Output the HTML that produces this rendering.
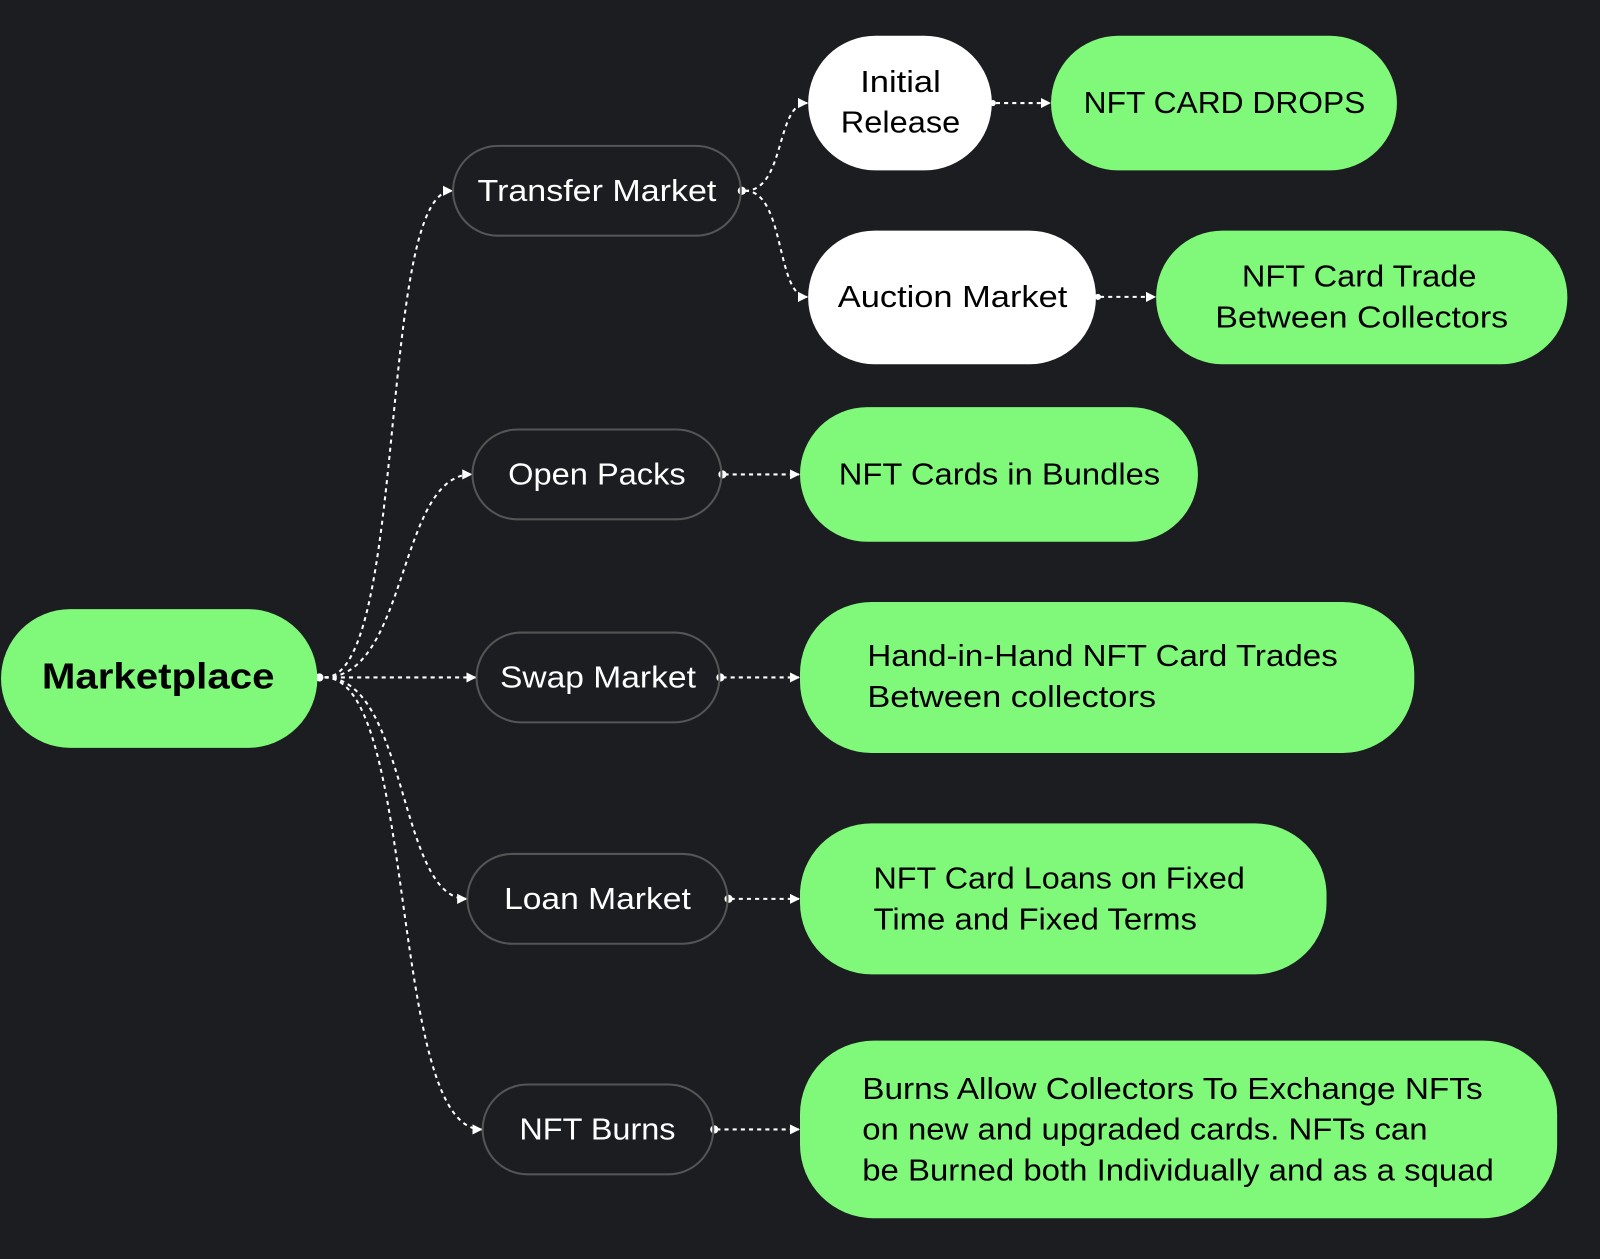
<!DOCTYPE html>
<html><head><meta charset="utf-8"><style>
html,body{margin:0;padding:0;background:#1b1d21;}
svg{display:block}
text{font-family:"Liberation Sans",sans-serif;}
</style></head><body>
<svg width="1600" height="1259" viewBox="0 0 1568 1234" preserveAspectRatio="none" xmlns="http://www.w3.org/2000/svg">
<defs>
<marker id="a" viewBox="0 0 10 10" refX="9" refY="5" markerWidth="10" markerHeight="10" markerUnits="userSpaceOnUse" orient="auto"><path d="M0,0 L10,5 L0,10 z" fill="#fff"/></marker>
</defs>
<rect width="1568" height="1234" fill="#1b1d21"/>
<g fill="none" stroke="#fff" stroke-width="2" stroke-dasharray="4 4" marker-end="url(#a)">
<path d="M318 664 C 400 664, 370 187, 443 187"/>
<path d="M318 664 C 400 664, 390 465, 462 465"/>
<path d="M318 664 L 466 664"/>
<path d="M318 664 C 400 664, 390 881, 457 881"/>
<path d="M318 664 C 410 664, 380 1107, 472 1107"/>
<path d="M730 187 C 770 187, 760 101, 791 101"/>
<path d="M730 187 C 770 187, 760 291, 791 291"/>
<path d="M976 101 L 1029 101"/>
<path d="M1078 291 L 1132 291"/>
<path d="M710 465 L 783 465"/>
<path d="M708 664 L 783 664"/>
<path d="M716 881 L 783 881"/>
<path d="M702 1107 L 783 1107"/>
</g>
<g fill="#fff">
<circle cx="313" cy="664" r="4"/><circle cx="727" cy="187" r="4"/><circle cx="973" cy="101" r="3"/><circle cx="1076" cy="291" r="3"/>
<circle cx="708" cy="465" r="4"/><circle cx="706" cy="664" r="4"/><circle cx="714" cy="881" r="4"/><circle cx="700" cy="1107" r="4"/>
</g>
<g font-size="30">
<rect x="1" y="597" width="310" height="136" rx="68" fill="#80f87a"/>
<text x="41" y="675" font-size="35" font-weight="bold" fill="#000" textLength="228" lengthAdjust="spacingAndGlyphs">Marketplace</text>

<rect x="444" y="143" width="282" height="88" rx="44" fill="none" stroke="#555" stroke-width="2"/>
<text x="468" y="197" fill="#fff" textLength="234" lengthAdjust="spacingAndGlyphs">Transfer Market</text>
<rect x="463" y="421" width="244" height="88" rx="44" fill="none" stroke="#555" stroke-width="2"/>
<text x="498" y="475" fill="#fff" textLength="174" lengthAdjust="spacingAndGlyphs">Open Packs</text>
<rect x="467" y="620" width="238" height="88" rx="44" fill="none" stroke="#555" stroke-width="2"/>
<text x="490" y="674" fill="#fff" textLength="192" lengthAdjust="spacingAndGlyphs">Swap Market</text>
<rect x="458" y="837" width="255" height="88" rx="44" fill="none" stroke="#555" stroke-width="2"/>
<text x="494" y="891" fill="#fff" textLength="183" lengthAdjust="spacingAndGlyphs">Loan Market</text>
<rect x="473" y="1063" width="226" height="88" rx="44" fill="none" stroke="#555" stroke-width="2"/>
<text x="509" y="1117" fill="#fff" textLength="153" lengthAdjust="spacingAndGlyphs">NFT Burns</text>

<rect x="792" y="35" width="180" height="132" rx="66" fill="#fff"/>
<text x="843" y="90" fill="#000" textLength="79" lengthAdjust="spacingAndGlyphs">Initial</text>
<text x="824" y="130" fill="#000" textLength="117" lengthAdjust="spacingAndGlyphs">Release</text>
<rect x="792" y="226" width="282" height="131" rx="65" fill="#fff"/>
<text x="821" y="301" fill="#000" textLength="225" lengthAdjust="spacingAndGlyphs">Auction Market</text>

<rect x="1030" y="35" width="339" height="132" rx="66" fill="#80f87a"/>
<text x="1062" y="111" fill="#000" textLength="276" lengthAdjust="spacingAndGlyphs">NFT CARD DROPS</text>
<rect x="1133" y="226" width="403" height="131" rx="65" fill="#80f87a"/>
<text x="1217" y="281" fill="#000" textLength="230" lengthAdjust="spacingAndGlyphs">NFT Card Trade</text>
<text x="1191" y="321" fill="#000" textLength="287" lengthAdjust="spacingAndGlyphs">Between Collectors</text>
<rect x="784" y="399" width="390" height="132" rx="66" fill="#80f87a"/>
<text x="822" y="475" fill="#000" textLength="315" lengthAdjust="spacingAndGlyphs">NFT Cards in Bundles</text>
<rect x="784" y="590" width="602" height="148" rx="70" fill="#80f87a"/>
<text x="850" y="653" fill="#000" textLength="461" lengthAdjust="spacingAndGlyphs">Hand-in-Hand NFT Card Trades</text>
<text x="850" y="693" fill="#000" textLength="283" lengthAdjust="spacingAndGlyphs">Between collectors</text>
<rect x="784" y="807" width="516" height="148" rx="70" fill="#80f87a"/>
<text x="856" y="871" fill="#000" textLength="364" lengthAdjust="spacingAndGlyphs">NFT Card Loans on Fixed</text>
<text x="856" y="911" fill="#000" textLength="317" lengthAdjust="spacingAndGlyphs">Time and Fixed Terms</text>
<rect x="784" y="1020" width="742" height="174" rx="72" fill="#80f87a"/>
<text x="845" y="1077" fill="#000" textLength="608" lengthAdjust="spacingAndGlyphs">Burns Allow Collectors To Exchange NFTs</text>
<text x="845" y="1117" fill="#000" textLength="554" lengthAdjust="spacingAndGlyphs">on new and upgraded cards. NFTs can</text>
<text x="845" y="1157" fill="#000" textLength="619" lengthAdjust="spacingAndGlyphs">be Burned both Individually and as a squad</text>
</g>
</svg>
</body></html>
